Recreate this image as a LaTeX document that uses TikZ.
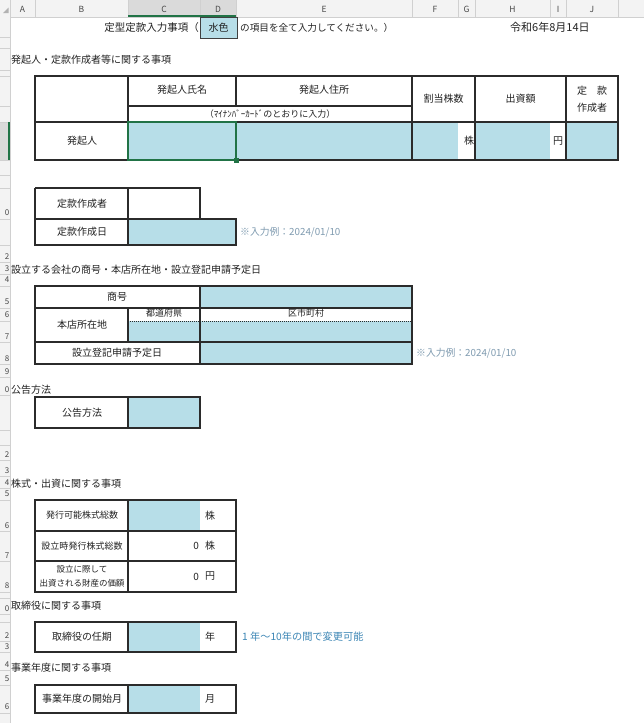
\documentclass[tikz,border=0pt]{standalone}
\usepackage{fontspec}
\newfontfamily\jp{Noto Sans CJK JP}
\definecolor{aqua}{HTML}{B7DEE8}
\definecolor{linec}{HTML}{2B2B2B}
\definecolor{txt}{HTML}{222222}
\definecolor{hdr}{HTML}{F3F3F3}
\definecolor{hdrsel}{HTML}{DADADA}
\definecolor{hdrline}{HTML}{D0D0D0}
\definecolor{xlgreen}{HTML}{217346}
\definecolor{notec}{HTML}{7F9BB0}
\definecolor{noteb}{HTML}{3C86B5}
\begin{document}
\begin{tikzpicture}[x=1pt,y=-1pt,
  every node/.style={font=\jp, text=txt, inner sep=0pt},
  lab/.style={font=\jp\fontsize{10}{12}\selectfont},
  lab9/.style={font=\jp\fontsize{9}{11}\selectfont},
  lab8/.style={font=\jp\fontsize{8.5}{10}\selectfont},
  head/.style={font=\jp\fontsize{10}{12}\selectfont, anchor=west},
  colh/.style={font=\jp\fontsize{8.5}{10}\selectfont, text=black!72},
  rowh/.style={font=\jp\fontsize{8}{9}\selectfont, text=black!72},
  grid/.style={draw=linec, line width=1.1pt},
  inp/.style={fill=aqua},
  notegrey/.style={font=\jp\fontsize{9.8}{11}\selectfont, text=notec, anchor=west},
  noteblue/.style={font=\jp\fontsize{10.2}{12}\selectfont, text=noteb, anchor=west},
]
\useasboundingbox (0,0) rectangle (644,723);
\fill[white] (0,0) rectangle (644,723);

% ---------- column header ----------
\fill[hdr] (0,0) rectangle (644,17);
\fill[hdrsel] (128,0) rectangle (236,17);
\foreach \x in {10,35,128,200,236,412,458,475,550,566,618}
  \draw[hdrline] (\x,0) -- (\x,17);
\draw[hdrline] (0,17) -- (644,17);
\draw[xlgreen, line width=1.6pt] (128,16.2) -- (236,16.2);
\fill[black!30] (3,13) -- (8.5,13) -- (8.5,7.5) -- cycle;
\node[colh] (hA) at (22.5,9) {A};
\node[colh] (hB) at (81.5,9) {B};
\node[colh] (hC) at (164,9) {C};
\node[colh] (hD) at (218,9) {D};
\node[colh] (hE) at (324,9) {E};
\node[colh] (hF) at (435,9) {F};
\node[colh] (hG) at (466.5,9) {G};
\node[colh] (hH) at (512.5,9) {H};
\node[colh] (hI) at (558,9) {I};
\node[colh] (hJ) at (592,9) {J};

% ---------- row header strip ----------
\fill[hdr] (0,17) rectangle (10,723);
\fill[hdrsel] (0,122) rectangle (10,160);
\foreach \y in {37,48,70,76,106,122,160,175,188,219,245,262,274,286,308,321,342,364,377,395,430,445,460,476,488,500,531,561,592,598,614,622,641,652,670,685,713}
  \draw[hdrline] (0,\y) -- (10,\y);
\draw[hdrline] (10,17) -- (10,723);
\draw[xlgreen, line width=1.6pt] (9.2,122) -- (9.2,160);
\begin{scope}
  \clip (0,17) rectangle (9.3,723);
  \node[rowh] (r10) at (7,213) {0};
  \node[rowh] (r12) at (7,257) {2};
  \node[rowh] (r13) at (7,269) {3};
  \node[rowh] (r14) at (7,280) {4};
  \node[rowh] (r15) at (7,302) {5};
  \node[rowh] (r16) at (7,315) {6};
  \node[rowh] (r17) at (7,337) {7};
  \node[rowh] (r18) at (7,359) {8};
  \node[rowh] (r19) at (7,372) {9};
  \node[rowh] (r20) at (7,390) {0};
  \node[rowh] (r22) at (7,455) {2};
  \node[rowh] (r23) at (7,471) {3};
  \node[rowh] (r24) at (7,483) {4};
  \node[rowh] (r25) at (7,494) {5};
  \node[rowh] (r26) at (7,526) {6};
  \node[rowh] (r27) at (7,556) {7};
  \node[rowh] (r28) at (7,586) {8};
  \node[rowh] (r30) at (7,609) {0};
  \node[rowh] (r32) at (7,636) {2};
  \node[rowh] (r33) at (7,647) {3};
  \node[rowh] (r34) at (7,665) {4};
  \node[rowh] (r35) at (7,679) {5};
  \node[rowh] (r36) at (7,707) {6};
\end{scope}

% ---------- title line ----------
\node[font=\jp\fontsize{10.5}{12}\selectfont, anchor=east] (title1) at (199,27.5) {定型定款入力事項（};
\draw[draw=black!75, fill=aqua, line width=0.9pt] (200,17.5) rectangle (237,38);
\node[font=\jp\fontsize{10}{12}\selectfont] (mizuiro) at (218.5,27.5) {水色};
\node[font=\jp\fontsize{9.6}{12}\selectfont, anchor=west] (title2) at (240,27.5) {の項目を全て入力してください。）};
\node[font=\jp\fontsize{11}{12}\selectfont, anchor=west] (date) at (510,27.5) {令和6年8月14日};

% ---------- section 1 ----------
\node[head] (s1) at (11,60) {発起人・定款作成者等に関する事項};
\fill[aqua] (128,122) rectangle (458,160);
\fill[aqua] (475,122) rectangle (550,160);
\fill[aqua] (566,122) rectangle (618,160);
\draw[grid] (35,76) rectangle (618,160);
\draw[grid] (35,122) -- (618,122);
\draw[grid] (128,106) -- (412,106);
\draw[grid] (128,76) -- (128,160);
\draw[grid] (236,76) -- (236,106);
\draw[grid] (236,122) -- (236,160);
\draw[grid] (412,76) -- (412,160);
\draw[grid] (475,76) -- (475,160);
\draw[grid] (566,76) -- (566,160);
\node[lab] (h1) at (182,90) {発起人氏名};
\node[lab] (h2) at (324,90) {発起人住所};
\node[font=\jp\fontsize{9}{10}\selectfont] (h3) at (270,114.5) {（ﾏｲﾅﾝﾊﾞｰｶｰﾄﾞのとおりに入力）};
\node[lab] (h4) at (443.5,99) {割当株数};
\node[lab] (h5) at (520.5,99) {出資額};
\node[lab] (h6a) at (592,91) {定　款};
\node[lab] (h6b) at (592,108) {作成者};
\node[lab] (p1) at (82,141) {発起人};
\node[lab] (kabu1) at (469,141) {株};
\node[lab] (en1) at (558,141) {円};
\draw[xlgreen, line width=2pt] (128,122) rectangle (236,160);
\fill[xlgreen] (233.5,157.5) rectangle (238.5,162.5);

% ---------- section 2 ----------
\fill[aqua] (128,219) rectangle (236,245);
\draw[grid] (35,188) -- (200,188) -- (200,219);
\draw[grid] (35,188) -- (35,245) -- (236,245) -- (236,219) -- (35,219);
\draw[grid] (128,188) -- (128,245);
\node[lab] (t1) at (82,203.5) {定款作成者};
\node[lab] (t2) at (82,232) {定款作成日};
\node[notegrey] (n1) at (240,232) {※入力例：2024/01/10};

% ---------- section 3 ----------
\node[head] (s3) at (11,270) {設立する会社の商号・本店所在地・設立登記申請予定日};
\fill[aqua] (200,286) rectangle (412,308);
\fill[aqua] (128,321) rectangle (412,342);
\fill[aqua] (200,342) rectangle (412,364);
\draw[grid] (35,286) rectangle (412,364);
\draw[grid] (35,308) -- (412,308);
\draw[grid] (35,342) -- (412,342);
\draw[grid] (200,286) -- (200,364);
\draw[grid] (128,308) -- (128,342);
\draw[draw=linec, line width=1pt, dash pattern=on 1pt off 1pt] (128,321) -- (412,321);
\node[lab] (c1) at (117,297) {商号};
\node[lab] (c2) at (82,325) {本店所在地};
\node[lab9] (c3) at (164,313.5) {都道府県};
\node[lab9] (c4) at (306,313.5) {区市町村};
\node[lab] (c5) at (117,353) {設立登記申請予定日};
\node[notegrey] (n2) at (416,353) {※入力例：2024/01/10};

% ---------- section 4 ----------
\node[head] (s4) at (11,390) {公告方法};
\fill[aqua] (128,397) rectangle (200,428);
\draw[grid] (35,397) rectangle (200,428);
\draw[grid] (128,397) -- (128,428);
\node[lab] (k1) at (82,412.5) {公告方法};

% ---------- section 5 ----------
\node[head] (s5) at (11,484) {株式・出資に関する事項};
\fill[aqua] (128,500) rectangle (200,531);
\draw[grid] (35,500) rectangle (236,592);
\draw[grid] (35,531) -- (236,531);
\draw[grid] (35,561) -- (236,561);
\draw[grid] (128,500) -- (128,592);
\node[lab9] (m1) at (82,515.5) {発行可能株式総数};
\node[lab] (m1u) at (210,515.5) {株};
\node[lab9] (m2) at (82,546) {設立時発行株式総数};
\node[lab, anchor=east] (m2v) at (199,546) {0};
\node[lab] (m2u) at (210,546) {株};
\node[lab8] (m3a) at (82,569.5) {設立に際して};
\node[lab8] (m3b) at (82,583.5) {出資される財産の価額};
\node[lab, anchor=east] (m3v) at (199,576.5) {0};
\node[lab] (m3u) at (210,576.5) {円};

% ---------- section 6 ----------
\node[head] (s6) at (11,606) {取締役に関する事項};
\fill[aqua] (128,622) rectangle (200,652);
\draw[grid] (35,622) rectangle (236,652);
\draw[grid] (128,622) -- (128,652);
\node[lab] (d1) at (82,637) {取締役の任期};
\node[lab] (d1u) at (210,637) {年};
\node[noteblue] (n3) at (242,637) {1 年～10年の間で変更可能};

% ---------- section 7 ----------
\node[head] (s7) at (11,668) {事業年度に関する事項};
\fill[aqua] (128,685) rectangle (200,713);
\draw[grid] (35,685) rectangle (236,713);
\draw[grid] (128,685) -- (128,713);
\node[lab] (y1) at (82,699) {事業年度の開始月};
\node[lab] (y1u) at (210,699) {月};
\end{tikzpicture}
\end{document}
